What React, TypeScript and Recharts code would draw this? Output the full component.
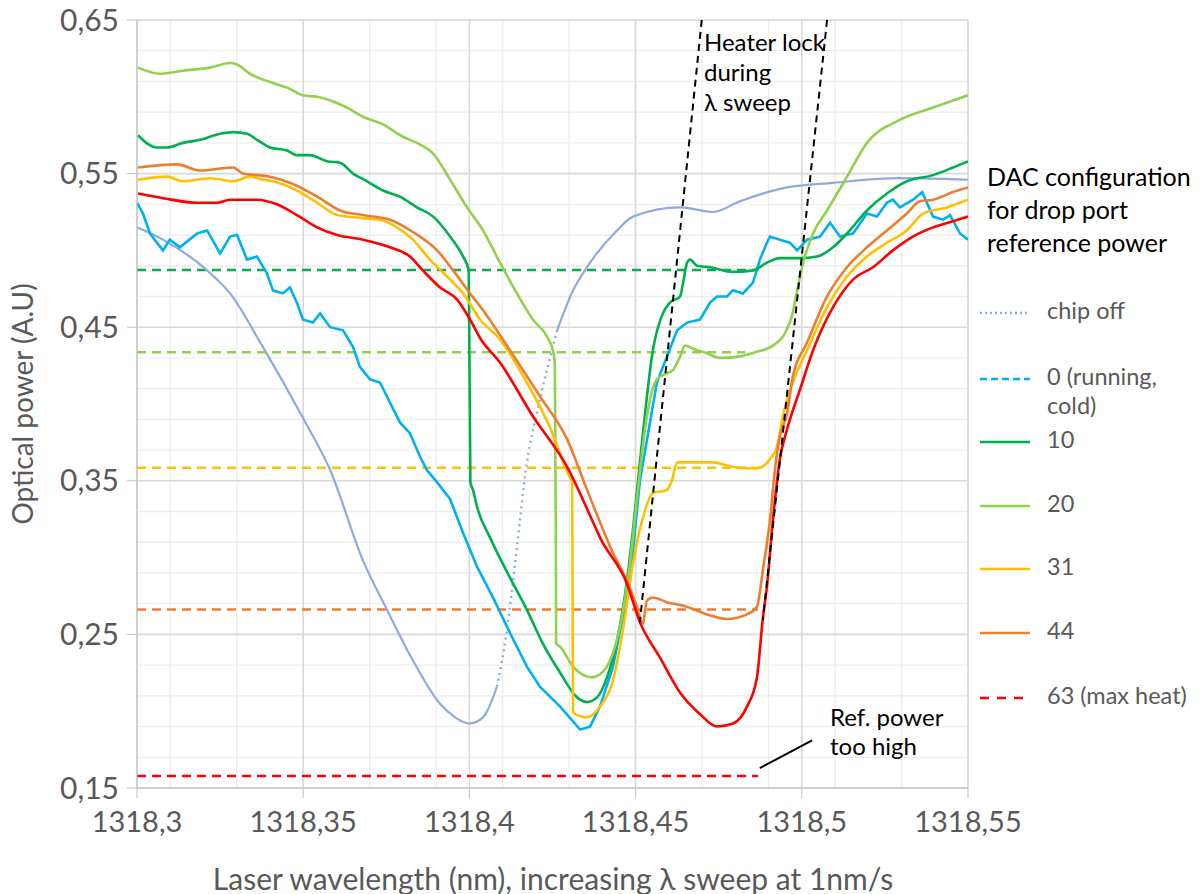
import React from "react";
import { LineChart, Line, XAxis, YAxis, CartesianGrid } from "recharts";

type P = [number, number];

const xTicks = [1318.3, 1318.35, 1318.4, 1318.45, 1318.5, 1318.55];
const yTicks = [0.15, 0.25, 0.35, 0.45, 0.55, 0.65];

const chipOffA: P[] = [
  [1318.3, 0.515], [1318.3078, 0.507], [1318.3211, 0.487], [1318.328, 0.472], [1318.3379, 0.437],
  [1318.3499, 0.391], [1318.3581, 0.357], [1318.368, 0.298], [1318.3752, 0.266], [1318.383, 0.233],
  [1318.3911, 0.205], [1318.3957, 0.196], [1318.3999, 0.192], [1318.4041, 0.196], [1318.4083, 0.216],
];
const chipOffDotted: P[] = [
  [1318.4083, 0.216], [1318.4113, 0.253], [1318.4143, 0.307], [1318.4173, 0.362], [1318.4203, 0.394],
  [1318.4233, 0.422], [1318.4264, 0.448],
];
const chipOffB: P[] = [
  [1318.4264, 0.448], [1318.4312, 0.474], [1318.4363, 0.492], [1318.4444, 0.513], [1318.4492, 0.522],
  [1318.4634, 0.528], [1318.4733, 0.525], [1318.4814, 0.532], [1318.4955, 0.541], [1318.5094, 0.544],
  [1318.5295, 0.547], [1318.55, 0.546],
];

const dac0: P[] = [
  [1318.3, 0.531], [1318.3018, 0.524], [1318.3039, 0.511], [1318.3078, 0.5], [1318.3099, 0.507],
  [1318.3129, 0.502], [1318.3181, 0.511], [1318.3211, 0.513], [1318.325, 0.498], [1318.328, 0.509],
  [1318.3301, 0.51], [1318.3331, 0.494], [1318.3361, 0.496], [1318.3391, 0.485], [1318.3409, 0.474],
  [1318.3439, 0.472], [1318.346, 0.476], [1318.3481, 0.466], [1318.3499, 0.455], [1318.3529, 0.453],
  [1318.3551, 0.459], [1318.3581, 0.45], [1318.362, 0.448], [1318.365, 0.437], [1318.3671, 0.424],
  [1318.3701, 0.416], [1318.3731, 0.414], [1318.3761, 0.401], [1318.3791, 0.388], [1318.3821, 0.381],
  [1318.3851, 0.366], [1318.3872, 0.357], [1318.3903, 0.349], [1318.3942, 0.338], [1318.3981, 0.316],
  [1318.4023, 0.294], [1318.4071, 0.274], [1318.4122, 0.251], [1318.4173, 0.229], [1318.4212, 0.216],
  [1318.4273, 0.203], [1318.4333, 0.188], [1318.4363, 0.19], [1318.4393, 0.203], [1318.4432, 0.229],
  [1318.4483, 0.285], [1318.4513, 0.35], [1318.4564, 0.414], [1318.4625, 0.448], [1318.4655, 0.453],
  [1318.4694, 0.455], [1318.4724, 0.466], [1318.4745, 0.47], [1318.4775, 0.47], [1318.4793, 0.474],
  [1318.4823, 0.472], [1318.4853, 0.479], [1318.4874, 0.494], [1318.4895, 0.505], [1318.4904, 0.509],
  [1318.4934, 0.507], [1318.4964, 0.505], [1318.4986, 0.5], [1318.5016, 0.507], [1318.5055, 0.509],
  [1318.5085, 0.518], [1318.5115, 0.509], [1318.5154, 0.511], [1318.5196, 0.524], [1318.5226, 0.522],
  [1318.5256, 0.531], [1318.5274, 0.533], [1318.5295, 0.528], [1318.5335, 0.533], [1318.5362, 0.538],
  [1318.5395, 0.522], [1318.5425, 0.52], [1318.5446, 0.523], [1318.5476, 0.511], [1318.55, 0.507],
];

const dac10: P[] = [
  [1318.3003, 0.575], [1318.306, 0.567], [1318.309, 0.567], [1318.3138, 0.57], [1318.319, 0.572],
  [1318.325, 0.576], [1318.3289, 0.577], [1318.3331, 0.576], [1318.3361, 0.572], [1318.34, 0.567],
  [1318.3451, 0.565], [1318.3481, 0.562], [1318.352, 0.562], [1318.3572, 0.558], [1318.3611, 0.557],
  [1318.365, 0.55], [1318.3692, 0.545], [1318.374, 0.539], [1318.3791, 0.535], [1318.3842, 0.528],
  [1318.3891, 0.522], [1318.3942, 0.509], [1318.3981, 0.496], [1318.3998, 0.487], [1318.4003, 0.349],
  [1318.4011, 0.344], [1318.4023, 0.333], [1318.4062, 0.313], [1318.4122, 0.287], [1318.4173, 0.266],
  [1318.4221, 0.244], [1318.4273, 0.225], [1318.4324, 0.209], [1318.4354, 0.206], [1318.4384, 0.209],
  [1318.4414, 0.222], [1318.4444, 0.246], [1318.4474, 0.285], [1318.4492, 0.318], [1318.4522, 0.381],
  [1318.4552, 0.435], [1318.4582, 0.459], [1318.4603, 0.466], [1318.4634, 0.47], [1318.4643, 0.479],
  [1318.4655, 0.492], [1318.4664, 0.494], [1318.4685, 0.49], [1318.4724, 0.489], [1318.4793, 0.486],
  [1318.4853, 0.487], [1318.4895, 0.492], [1318.4934, 0.495], [1318.4994, 0.495], [1318.5046, 0.496],
  [1318.5094, 0.502], [1318.5136, 0.511], [1318.5196, 0.526], [1318.5256, 0.537], [1318.5316, 0.545],
  [1318.5395, 0.549], [1318.5455, 0.554], [1318.55, 0.558],
];

const dac20: P[] = [
  [1318.3003, 0.619], [1318.3069, 0.615], [1318.3138, 0.617], [1318.322, 0.619], [1318.328, 0.622],
  [1318.3301, 0.621], [1318.334, 0.615], [1318.3409, 0.609], [1318.3451, 0.606], [1318.3499, 0.601],
  [1318.3542, 0.6], [1318.359, 0.597], [1318.3632, 0.593], [1318.368, 0.587], [1318.374, 0.582],
  [1318.38, 0.574], [1318.3851, 0.569], [1318.3891, 0.563], [1318.3942, 0.546], [1318.3993, 0.528],
  [1318.4041, 0.513], [1318.4092, 0.492], [1318.4143, 0.472], [1318.4191, 0.455], [1318.4233, 0.444],
  [1318.4251, 0.435], [1318.4257, 0.427], [1318.426, 0.318], [1318.4261, 0.244], [1318.4273, 0.242],
  [1318.4312, 0.229], [1318.4369, 0.222], [1318.4393, 0.224], [1318.4423, 0.233], [1318.4453, 0.255],
  [1318.4483, 0.296], [1318.4504, 0.338], [1318.4534, 0.392], [1318.4564, 0.416], [1318.4594, 0.42],
  [1318.4612, 0.422], [1318.4634, 0.431], [1318.4649, 0.438], [1318.4673, 0.436], [1318.4715, 0.433],
  [1318.4754, 0.43], [1318.4814, 0.431], [1318.4865, 0.434], [1318.4913, 0.438], [1318.4949, 0.446],
  [1318.497, 0.457], [1318.4986, 0.474], [1318.5004, 0.492], [1318.5034, 0.511], [1318.5076, 0.526],
  [1318.5136, 0.548], [1318.5196, 0.57], [1318.5295, 0.585], [1318.5395, 0.593], [1318.55, 0.601],
];

const dac31: P[] = [
  [1318.3003, 0.546], [1318.309, 0.548], [1318.3138, 0.545], [1318.322, 0.547], [1318.3289, 0.545],
  [1318.334, 0.548], [1318.3379, 0.546], [1318.3409, 0.545], [1318.3481, 0.539], [1318.3542, 0.531],
  [1318.3602, 0.523], [1318.368, 0.521], [1318.3731, 0.52], [1318.3782, 0.515], [1318.383, 0.507],
  [1318.3881, 0.494], [1318.3933, 0.483], [1318.3981, 0.472], [1318.4032, 0.455], [1318.4092, 0.442],
  [1318.4173, 0.414], [1318.4242, 0.385], [1318.4303, 0.352], [1318.4309, 0.35], [1318.4312, 0.199],
  [1318.4354, 0.196], [1318.4393, 0.203], [1318.4432, 0.22], [1318.4462, 0.253], [1318.4492, 0.296],
  [1318.4522, 0.326], [1318.4552, 0.342], [1318.4594, 0.344], [1318.4609, 0.35], [1318.4625, 0.362],
  [1318.4673, 0.362], [1318.4733, 0.362], [1318.4793, 0.359], [1318.4865, 0.358], [1318.4904, 0.364],
  [1318.4925, 0.372], [1318.4943, 0.392], [1318.4973, 0.414], [1318.5016, 0.435], [1318.5076, 0.463],
  [1318.5136, 0.483], [1318.5196, 0.496], [1318.5256, 0.505], [1318.5316, 0.513], [1318.5365, 0.524],
  [1318.5437, 0.528], [1318.55, 0.533],
];

const dac44: P[] = [
  [1318.3003, 0.554], [1318.312, 0.556], [1318.319, 0.552], [1318.3289, 0.554], [1318.3319, 0.55],
  [1318.34, 0.548], [1318.346, 0.544], [1318.3542, 0.535], [1318.3611, 0.526], [1318.368, 0.523],
  [1318.3761, 0.52], [1318.383, 0.512], [1318.3903, 0.5], [1318.3951, 0.487], [1318.4002, 0.472],
  [1318.4041, 0.461], [1318.4122, 0.435], [1318.4212, 0.405], [1318.4294, 0.377], [1318.4354, 0.344],
  [1318.4393, 0.323], [1318.4432, 0.303], [1318.4474, 0.285], [1318.4504, 0.268], [1318.4522, 0.257],
  [1318.4534, 0.272], [1318.4552, 0.274], [1318.4594, 0.271], [1318.4654, 0.268], [1318.4715, 0.263],
  [1318.4775, 0.26], [1318.4835, 0.263], [1318.4865, 0.268], [1318.4883, 0.292], [1318.4904, 0.324],
  [1318.4919, 0.357], [1318.4934, 0.379], [1318.4955, 0.393], [1318.4973, 0.418], [1318.5016, 0.44],
  [1318.5076, 0.47], [1318.5136, 0.489], [1318.5196, 0.502], [1318.5256, 0.513], [1318.5316, 0.524],
  [1318.5355, 0.532], [1318.5395, 0.533], [1318.5455, 0.538], [1318.55, 0.541],
];

const dac63: P[] = [
  [1318.3003, 0.537], [1318.3078, 0.534], [1318.3181, 0.531], [1318.3241, 0.531], [1318.328, 0.533],
  [1318.3361, 0.533], [1318.3421, 0.53], [1318.3481, 0.523], [1318.3542, 0.515], [1318.3602, 0.51],
  [1318.368, 0.507], [1318.3761, 0.502], [1318.3821, 0.496], [1318.386, 0.487], [1318.3911, 0.476],
  [1318.3963, 0.468], [1318.4002, 0.455], [1318.4032, 0.443], [1318.4092, 0.427], [1318.4191, 0.392],
  [1318.4294, 0.359], [1318.4372, 0.323], [1318.4393, 0.313], [1318.4474, 0.283], [1318.4513, 0.258],
  [1318.4573, 0.235], [1318.4634, 0.212], [1318.4694, 0.198], [1318.4745, 0.19], [1318.4793, 0.192],
  [1318.4835, 0.203], [1318.4865, 0.222], [1318.4883, 0.261], [1318.4895, 0.281], [1318.4913, 0.324],
  [1318.4934, 0.364], [1318.4955, 0.383], [1318.4994, 0.409], [1318.5034, 0.435], [1318.5094, 0.463],
  [1318.5154, 0.481], [1318.5214, 0.489], [1318.5274, 0.5], [1318.5334, 0.509], [1318.5395, 0.515],
  [1318.5455, 0.519], [1318.55, 0.522],
];

// DAC reference power levels (horizontal dashed lines)
const refStart = 1318.3;
const ref10: P[] = [[refStart, 0.4872], [1318.487, 0.4872]];
const ref20: P[] = [[refStart, 0.4337], [1318.483, 0.4337]];
const ref31: P[] = [[refStart, 0.3585], [1318.488, 0.3585]];
const ref44: P[] = [[refStart, 0.2662], [1318.4868, 0.2662]];
const ref63: P[] = [[refStart, 0.1578], [1318.4868, 0.1578]];

// Heater lock guide lines and annotation pointer
const heaterLeft: P[] = [[1318.4699, 0.65], [1318.4513, 0.2581]];
const heaterRight: P[] = [[1318.5076, 0.65], [1318.4883, 0.2594]];
const refPointer: P[] = [[1318.4874, 0.163], [1318.5031, 0.181]];

const toData = (a: P[]) => a.map(([x, y]) => ({ x, y }));

const C = {
  chip: "#8FAADC",
  d0: "#00B0F0",
  d10: "#00B050",
  d20: "#92D050",
  d31: "#FFC000",
  d44: "#ED7D31",
  d63: "#FF0000",
};

const minorX: number[] = [];
for (let i = 0; i <= 25; i++) minorX.push(Number((1318.3 + i * 0.01).toFixed(2)));
const minorY: number[] = [];
for (let i = 0; i <= 25; i++) minorY.push(Number((0.15 + i * 0.02).toFixed(2)));

const FONT = "Lato, 'Open Sans', sans-serif";
const fmt = (v: number) => String(v).replace(".", ",");

const legendItems = [
  { label: ["chip off"], color: C.chip, dash: "2 3", y: 313 },
  { label: ["0 (running,", "cold)"], color: C.d0, dash: "7 4", y: 379 },
  { label: ["10"], color: C.d10, dash: "", y: 442 },
  { label: ["20"], color: C.d20, dash: "", y: 506 },
  { label: ["31"], color: C.d31, dash: "", y: 569 },
  { label: ["44"], color: C.d44, dash: "", y: 633 },
  { label: ["63 (max heat)"], color: C.d63, dash: "9 8", y: 698 },
];

export default function App() {
  const base = {
    dataKey: "y",
    dot: false,
    activeDot: false,
    isAnimationActive: false,
    strokeWidth: 2.6,
  };
  const straight = { ...base, type: "linear" as const };
  const smooth = { ...base, type: "monotoneX" as const };
  return (
    <div style={{ position: "absolute", left: 0, top: 0, width: 1203, height: 894, background: "#fff", fontFamily: FONT }}>
      <LineChart width={1203} height={894} margin={{ top: 20, right: 235, bottom: 46, left: 37 }}>
        <CartesianGrid stroke="#EDEDED" strokeWidth={1.3} verticalValues={minorX} horizontalValues={minorY} />
        <CartesianGrid stroke="#D9D9D9" strokeWidth={1.6} verticalValues={xTicks} horizontalValues={yTicks} />
        <XAxis
          type="number"
          dataKey="x"
          domain={[1318.3, 1318.55]}
          ticks={xTicks}
          tickFormatter={fmt}
          height={60}
          stroke="#BFBFBF"
          tickSize={10}
          tickMargin={13}
          tick={{ fill: "#595959", fontSize: 29, fontFamily: FONT }}
          allowDataOverflow
        />
        <YAxis
          type="number"
          domain={[0.15, 0.65]}
          ticks={yTicks}
          tickFormatter={fmt}
          width={100}
          stroke="#BFBFBF"
          tickSize={10}
          tickMargin={8}
          tick={{ fill: "#595959", fontSize: 30, fontFamily: FONT }}
          allowDataOverflow
        />
        <Line {...straight} data={toData(ref10)} stroke={C.d10} strokeDasharray="9 6" />
        <Line {...straight} data={toData(ref20)} stroke={C.d20} strokeDasharray="9 6" />
        <Line {...straight} data={toData(ref31)} stroke={C.d31} strokeDasharray="9 6" />
        <Line {...straight} data={toData(ref44)} stroke={C.d44} strokeDasharray="9 6" />
        <Line {...straight} data={toData(ref63)} stroke={C.d63} strokeDasharray="9 6" />
        <Line {...smooth} data={toData(chipOffA)} stroke={C.chip} strokeWidth={2.2} />
        <Line {...smooth} data={toData(chipOffDotted)} stroke={C.chip} strokeWidth={2.4} strokeDasharray="2 4" />
        <Line {...smooth} data={toData(chipOffB)} stroke={C.chip} strokeWidth={2.2} />
        <Line {...straight} data={toData(dac0)} stroke={C.d0} />
        <Line {...smooth} data={toData(dac10)} stroke={C.d10} />
        <Line {...smooth} data={toData(dac20)} stroke={C.d20} />
        <Line {...smooth} data={toData(dac31)} stroke={C.d31} />
        <Line {...smooth} data={toData(dac44)} stroke={C.d44} />
        <Line {...smooth} data={toData(dac63)} stroke={C.d63} />
        <Line {...straight} data={toData(heaterLeft)} stroke="#000" strokeWidth={2} strokeDasharray="7 5" />
        <Line {...straight} data={toData(heaterRight)} stroke="#000" strokeWidth={2} strokeDasharray="7 5" />
        <Line {...straight} data={toData(refPointer)} stroke="#000" strokeWidth={2} />
      </LineChart>

      {/* Axis titles */}
      <div style={{ position: "absolute", left: 0, width: 1106, top: 861, textAlign: "center", fontSize: 30, color: "#595959", lineHeight: "34px" }}>
        Laser wavelength (nm), increasing λ sweep at 1nm/s
      </div>
      <div
        style={{
          position: "absolute", left: 22, top: 404, transform: "translate(-50%, -50%) rotate(-90deg)",
          whiteSpace: "nowrap", fontSize: 28, color: "#595959", lineHeight: "32px",
        }}
      >
        Optical power (A.U)
      </div>

      {/* Annotations */}
      <div style={{ position: "absolute", left: 704, top: 27, fontSize: 24, lineHeight: "30px", color: "#000" }}>
        Heater lock<br />during<br />λ sweep
      </div>
      <div style={{ position: "absolute", left: 830, top: 702, fontSize: 24, lineHeight: "29px", color: "#000" }}>
        Ref. power<br />too high
      </div>

      {/* Legend */}
      <div style={{ position: "absolute", left: 987, top: 160, fontSize: 25, lineHeight: "33px", color: "#000", whiteSpace: "nowrap" }}>
        DAC configuration<br />for drop port<br />reference power
      </div>
      <svg width={80} height={894} style={{ position: "absolute", left: 970, top: 0 }}>
        {legendItems.map((it) => (
          <line key={it.label[0]} x1={10} x2={60} y1={it.y} y2={it.y} stroke={it.color} strokeWidth={2.6} strokeDasharray={it.dash || undefined} />
        ))}
      </svg>
      {legendItems.map((it) => (
        <div
          key={it.label[0]}
          style={{ position: "absolute", left: 1047, top: it.y - 17, fontSize: 23.5, lineHeight: "29px", color: "#595959", whiteSpace: "nowrap" }}
        >
          {it.label.map((l, i) => (
            <div key={i}>{l}</div>
          ))}
        </div>
      ))}
    </div>
  );
}
